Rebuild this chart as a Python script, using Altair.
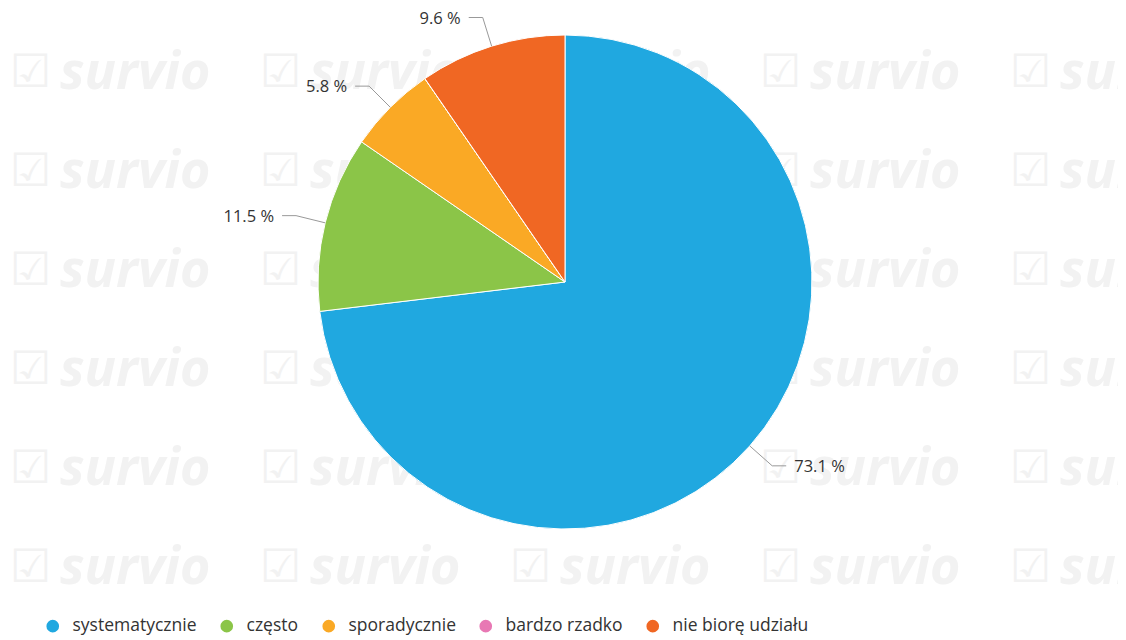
import altair as alt
import pandas as pd

categories = ["systematycznie", "często", "sporadycznie", "bardzo rzadko", "nie biorę udziału"]
values = [73.1, 11.5, 5.8, 0.0, 9.6]
colors = ["#20a8e0", "#8bc548", "#faa925", "#e878b4", "#f06723"]

df = pd.DataFrame({"category": categories, "value": values, "order": list(range(len(categories)))})

W, H = 1110, 630
CX, CY, R = 557, 274, 247
R2 = 277

# faint watermark grid (decoration)
wm_rows = []
for i in range(5):
    for j in range(6):
        wm_rows.append({"wx": 2 + 250 * i, "wy": 65 + 99 * j})
wm = pd.DataFrame(wm_rows)

wm_check = alt.Chart(wm).mark_text(
    text="☑", font="DejaVu Sans", fontSize=46, color="#f2f2f2", align="left", baseline="middle"
).encode(x=alt.X("wx:Q", scale=None), y=alt.Y("wy:Q", scale=None))
wm_text = alt.Chart(wm).mark_text(
    text="survio", font="Open Sans", fontSize=52, fontWeight="bold", fontStyle="italic",
    color="#f2f2f2", align="left", baseline="middle", dx=50
).encode(x=alt.X("wx:Q", scale=None), y=alt.Y("wy:Q", scale=None))

color = alt.Color(
    "category:N",
    scale=alt.Scale(domain=categories, range=colors),
    sort=categories,
    legend=alt.Legend(
        title=None, orient="none", direction="horizontal", legendX=36, legendY=609,
        symbolType="circle", symbolSize=160, symbolStrokeWidth=0,
        labelFont="Open Sans", labelFontSize=17.5, labelColor="#333333",
        columnPadding=21, labelOffset=11, padding=0,
    ),
)

pie = alt.Chart(df).mark_arc(radius=R, stroke="white", strokeWidth=1).encode(
    theta=alt.Theta("value:Q", stack=True),
    color=color,
    order=alt.Order("order:Q"),
    x=alt.value(CX),
    y=alt.value(CY),
)

lab = (
    alt.Chart(df)
    .transform_window(cum="sum(value)", sort=[alt.SortField("order")], frame=[None, 0])
    .transform_joinaggregate(total="sum(value)")
    .transform_filter("datum.value > 0")
    .transform_calculate(mid="(datum.cum - datum.value/2)/datum.total*2*PI")
    .transform_calculate(
        side="sin(datum.mid) >= 0 ? 1 : -1",
        ex=f"{CX} + {R}*sin(datum.mid)",
        ey=f"{CY} - {R}*cos(datum.mid)",
        bx=f"{CX} + {R2}*sin(datum.mid)",
        by=f"{CY} - {R2}*cos(datum.mid)",
    )
    .transform_calculate(
        hx="datum.bx + datum.side*14",
        tx="datum.bx + datum.side*22",
        label="format(datum.value, '.1f') + ' %'",
    )
)

rule1 = lab.mark_rule(color="#999999", strokeWidth=1).encode(
    x=alt.X("ex:Q", scale=None), y=alt.Y("ey:Q", scale=None),
    x2="bx:Q", y2="by:Q",
)
rule2 = lab.mark_rule(color="#999999", strokeWidth=1).encode(
    x=alt.X("bx:Q", scale=None), y=alt.Y("by:Q", scale=None),
    x2="hx:Q", y2="by:Q",
)
text_r = lab.transform_filter("datum.side > 0").mark_text(
    align="left", baseline="middle", font="Open Sans", fontSize=16.5, color="#333333", dy=1
).encode(x=alt.X("tx:Q", scale=None), y=alt.Y("by:Q", scale=None), text="label:N")
text_l = lab.transform_filter("datum.side < 0").mark_text(
    align="right", baseline="middle", font="Open Sans", fontSize=16.5, color="#333333", dy=1
).encode(x=alt.X("tx:Q", scale=None), y=alt.Y("by:Q", scale=None), text="label:N")

chart = (
    alt.layer(wm_check, wm_text, pie, rule1, rule2, text_r, text_l)
    .properties(width=W, height=H, autosize="none", padding=0, background="white")
    .configure_view(stroke=None)
)

chart.save("out.html", embed_options={"renderer": "svg", "actions": False})
